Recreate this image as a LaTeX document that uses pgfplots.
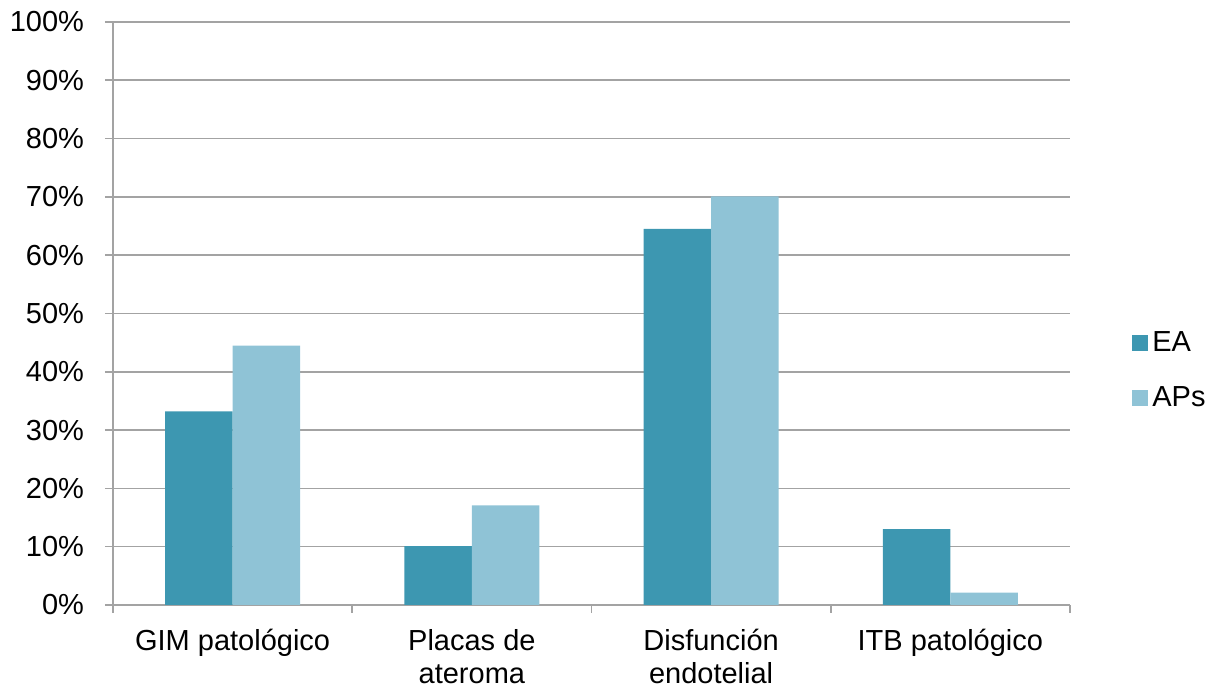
\documentclass[border=0pt]{standalone}
\usepackage{pgfplots}
\pgfplotsset{compat=1.18}
\usepackage{fontspec}
\setmainfont{Liberation Sans}
\definecolor{eacol}{HTML}{3D97B1}
\definecolor{apscol}{HTML}{8FC3D6}
\definecolor{gridcol}{HTML}{A3A3A3}
\begin{document}
\begin{tikzpicture}
\useasboundingbox (-56.5pt,-41.5pt) rectangle (557pt,302.5pt);
\begin{axis}[
  at={(0,0)}, anchor=south west,
  scale only axis, width=478.5pt, height=291.5pt,
  ybar=0pt, bar width=0.282,
  xmin=-0.5, xmax=3.5, ymin=0, ymax=100,
  xtick={0,1,2,3},
  xticklabels={GIM patológico, Placas de\\ateroma, Disfunción\\endotelial, ITB patológico},
  minor xtick={-0.5,0.5,1.5,2.5,3.5},
  major x tick style={draw=none},
  ytick={0,10,...,100},
  yticklabel={\pgfmathprintnumber{\tick}\%},
  /pgf/number format/assume math mode=true,
  tick align=outside, major tick length=4pt, minor tick length=4pt,
  xtick pos=bottom, ytick pos=left,
  axis x line*=bottom, axis y line*=left,
  axis line style={gridcol, line width=0.8pt},
  tick style={gridcol, line width=0.8pt},
  ymajorgrids, grid style={gridcol, line width=0.8pt},
  ticklabel style={font=\fontsize{14.5pt}{16.5pt}\selectfont, text=black},
  xticklabel style={align=center, yshift=-4.5pt},
  yticklabel style={xshift=-7pt},
  legend style={at={(1,0.5)}, anchor=west, xshift=28pt, yshift=-28.5pt,
    draw=none, fill=none, font=\fontsize{14.5pt}{16.5pt}\selectfont,
    row sep=12pt},
  legend image code/.code={\fill[#1] (0pt,-4pt) rectangle (8pt,4pt);},
  legend cell align=left,
]
\addplot[fill=eacol, draw=none] coordinates {(0,33.2) (1,10.1) (2,64.5) (3,13.0)};
\addplot[fill=apscol, draw=none] coordinates {(0,44.5) (1,17.1) (2,70.1) (3,2.1)};
\legend{EA, APs}
\end{axis}
\end{tikzpicture}
\end{document}
